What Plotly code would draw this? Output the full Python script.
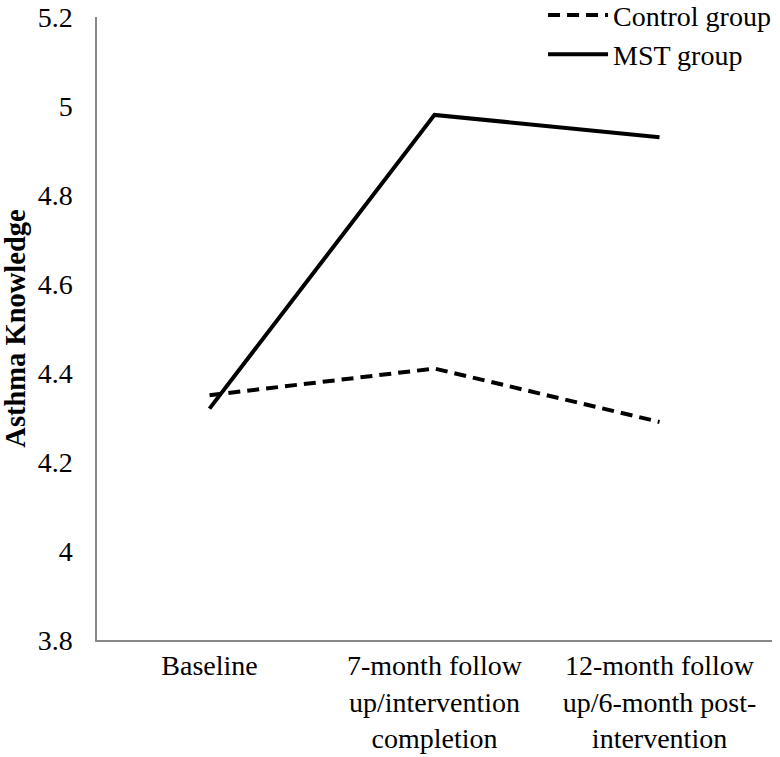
import plotly.graph_objects as go

categories = ["Baseline", "7-month follow<br>up/intervention<br>completion", "12-month follow<br>up/6-month post-<br>intervention"]
control_values = [4.35, 4.41, 4.29]
mst_values = [4.32, 4.98, 4.93]
y_ticks = [3.8, 4.0, 4.2, 4.4, 4.6, 4.8, 5.0, 5.2]
y_tick_labels = ["3.8", "4", "4.2", "4.4", "4.6", "4.8", "5", "5.2"]

FONT = "Liberation Serif, Times New Roman, serif"

fig = go.Figure()
fig.add_trace(go.Scatter(
    x=categories, y=control_values, mode="lines", name="Control group",
    line=dict(color="black", width=4, dash="12px,7px"),
))
fig.add_trace(go.Scatter(
    x=categories, y=mst_values, mode="lines", name="MST group",
    line=dict(color="black", width=4),
))

fig.update_layout(
    width=780, height=757,
    margin=dict(l=97, r=8, t=17, b=117, autoexpand=False),
    paper_bgcolor="white", plot_bgcolor="white",
    font=dict(family=FONT, size=28, color="black"),
    showlegend=True,
    legend=dict(
        x=1.006, y=1.043, xanchor="right", yanchor="top",
        bgcolor="rgba(0,0,0,0)", font=dict(family=FONT, size=28),
        itemwidth=60, tracegroupgap=0,
    ),
    xaxis=dict(
        type="category", range=[-0.5, 2.5], automargin=False,
        showgrid=False, zeroline=False,
        showline=True, linecolor="#888888", linewidth=1.5,
        ticks="", tickfont=dict(family=FONT, size=28),
    ),
    yaxis=dict(
        range=[3.8, 5.2], tickvals=y_ticks, ticktext=y_tick_labels,
        automargin=False,
        showgrid=False, zeroline=False,
        showline=True, linecolor="#888888", linewidth=1.5,
        ticks="", ticklabelstandoff=17,
        tickfont=dict(family=FONT, size=28),
        title=dict(text="<b>Asthma Knowledge</b>", font=dict(family=FONT, size=28.5), standoff=6),
    ),
)

fig.write_html("out.html", post_script="document.body.style.margin='0';",
               config={"displayModeBar": False})
